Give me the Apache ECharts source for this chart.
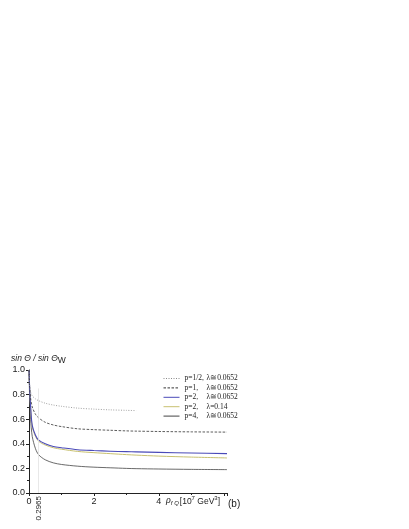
<!DOCTYPE html>
<html>
<head>
<meta charset="utf-8">
<script src="https://cdn.jsdelivr.net/npm/echarts@6/dist/echarts.min.js"></script>
<style>
  html, body { margin: 0; padding: 0; background: #fff; }
  #chart { width: 409px; height: 529px; }
</style>
</head>
<body>
<div id="chart"></div>
<script>
// rho_fQ in 10^7 GeV^3
var rho = [0, 0.02, 0.05, 0.1, 0.2, 0.3, 0.5, 0.75, 1, 1.5, 2, 2.5, 3, 3.3, 4, 5, 6.1];

// sin theta / sin theta_W
var pHalf   = [1.0, 0.88, 0.82, 0.79, 0.765, 0.75, 0.73, 0.715, 0.705, 0.69, 0.682, 0.676, 0.672, 0.67, null, null, null];
var pOne    = [1.0, 0.86, 0.77, 0.70, 0.64, 0.61, 0.575, 0.553, 0.54, 0.522, 0.515, 0.51, 0.505, 0.503, 0.5, 0.497, 0.495];
var pTwo    = [1.0, 0.85, 0.70, 0.55, 0.47, 0.43, 0.40, 0.378, 0.368, 0.352, 0.345, 0.34, 0.336, 0.334, 0.33, 0.325, 0.32];
var pTwoL14 = [1.0, 0.85, 0.69, 0.54, 0.46, 0.42, 0.39, 0.368, 0.356, 0.338, 0.328, 0.32, 0.312, 0.308, 0.30, 0.292, 0.285];
var pFour   = [1.0, 0.78, 0.60, 0.46, 0.36, 0.31, 0.27, 0.245, 0.232, 0.218, 0.21, 0.205, 0.20, 0.198, 0.195, 0.192, 0.19];

var pLabels = ['p=1/2,', 'p=1,', 'p=2,', 'p=2,', 'p=4,'];
var lambdaLabels = ['λ≅0.0652', 'λ≅0.0652', 'λ≅0.0652', 'λ=0.14', 'λ≅0.0652'];
var markRho = 0.2965;

var curves = [pHalf, pOne, pTwo, pTwoL14, pFour];
var styles = [
  { color: '#8a8a8a', width: 0.8, type: [1, 1.5] },
  { color: '#333333', width: 0.8, type: [2.5, 1.5] },
  { color: '#4a4ab8', width: 1.1, type: 'solid' },
  { color: '#c8c070', width: 1.0, type: 'solid' },
  { color: '#444444', width: 0.8, type: 'solid' }
];

function pairs(vals) {
  var out = [];
  rho.forEach(function (x, i) {
    if (vals[i] !== null) out.push([x, vals[i]]);
  });
  return out;
}

var series = curves.map(function (vals, i) {
  return {
    name: pLabels[i] + '|' + lambdaLabels[i] + '|' + i,
    type: 'line',
    data: pairs(vals),
    smooth: 0.3,
    symbol: 'none',
    lineStyle: styles[i],
    itemStyle: { color: styles[i].color },
    z: 5 - i
  };
});

// faint vertical guide at rho = 0.2965
series[0].markLine = {
  silent: true,
  symbol: 'none',
  label: { show: false },
  lineStyle: { color: '#e2e2e2', width: 0.8, type: 'solid' },
  data: [[{ coord: [markRho, 0] }, { coord: [markRho, 0.85] }]]
};

var chart = echarts.init(document.getElementById('chart'));
chart.setOption({
  animation: false,
  backgroundColor: '#fff',
  grid: { left: 29, right: 182, top: 370, bottom: 36 },
  legend: {
    orient: 'vertical',
    left: 158,
    top: 369,
    itemWidth: 16,
    itemHeight: 4,
    itemGap: 0.4,
    selectedMode: false,
    itemStyle: { opacity: 0 },
    lineStyle: { width: 1 },
    formatter: function (name) {
      var p = name.split('|');
      return '{a|' + p[0] + '}{b|' + p[1] + '}';
    },
    textStyle: {
      fontFamily: 'Liberation Serif',
      fontSize: 7.5,
      color: '#222',
      lineHeight: 9,
      rich: {
        a: { width: 22, fontFamily: 'Liberation Serif', fontSize: 7.5, color: '#222', lineHeight: 9 },
        b: { fontFamily: 'Liberation Serif', fontSize: 7.5, color: '#222', lineHeight: 9 }
      }
    }
  },
  xAxis: [{
    type: 'value',
    min: 0,
    max: 6.1,
    interval: 2,
    axisLine: { lineStyle: { color: '#222', width: 1 } },
    axisTick: { length: 3, lineStyle: { color: '#222' } },
    minorTick: { show: true, splitNumber: 2, length: 2, lineStyle: { color: '#222' } },
    splitLine: { show: false },
    axisLabel: {
      margin: 4,
      fontFamily: 'Liberation Sans',
      fontSize: 9,
      color: '#222',
      showMaxLabel: false,
      customValues: [0, 2, 4, 6]
    }
  }, {
    type: 'value',
    position: 'bottom',
    min: 0,
    max: 6.1,
    axisLine: { show: false },
    axisTick: { show: false },
    splitLine: { show: false },
    axisLabel: {
      customValues: [markRho],
      rotate: 90,
      margin: 3,
      fontFamily: 'Liberation Sans',
      fontSize: 8,
      color: '#222',
      formatter: function (v) { return String(v); }
    }
  }],
  yAxis: {
    type: 'value',
    min: 0,
    max: 1,
    interval: 0.2,
    name: '{t|sin Θ / sin Θ}{s|W}',
    nameLocation: 'end',
    nameGap: 3,
    nameTextStyle: {
      align: 'left',
      padding: [0, 0, 0, -18],
      rich: {
        t: { fontFamily: 'Liberation Sans', fontSize: 8.5, color: '#222', fontStyle: 'italic' },
        s: { fontFamily: 'Liberation Sans', fontSize: 8.5, color: '#222', padding: [4, 0, 0, 0] }
      }
    },
    axisLine: { show: true, lineStyle: { color: '#222', width: 1 } },
    axisTick: { show: true, length: 3, lineStyle: { color: '#222' } },
    minorTick: { show: true, splitNumber: 2, length: 2, lineStyle: { color: '#222' } },
    splitLine: { show: false },
    axisLabel: {
      margin: 4,
      fontFamily: 'Liberation Sans',
      fontSize: 9,
      color: '#222',
      formatter: function (v) { return v.toFixed(1); }
    }
  },
  graphic: [{
    type: 'text',
    left: 166,
    top: 495,
    style: {
      text: '{r|ρ}{sub|f Q}{t|[10}{sup|7}{t| GeV}{sup|3}{t|]}',
      rich: {
        r: { fontFamily: 'Liberation Serif', fontSize: 10, fontStyle: 'italic', fill: '#222' },
        sub: { fontFamily: 'Liberation Sans', fontSize: 6, fontStyle: 'italic', fill: '#222', padding: [6, 1, 0, 0] },
        t: { fontFamily: 'Liberation Sans', fontSize: 8.5, fill: '#222', padding: [2, 0, 0, 0] },
        sup: { fontFamily: 'Liberation Sans', fontSize: 6, fill: '#222', padding: [0, 0, 5, 0] }
      }
    }
  }, {
    type: 'text',
    left: 228,
    top: 499,
    style: { text: '(b)', font: '10px "Liberation Sans"', fill: '#222' }
  }],
  series: series
});
</script>
</body>
</html>
